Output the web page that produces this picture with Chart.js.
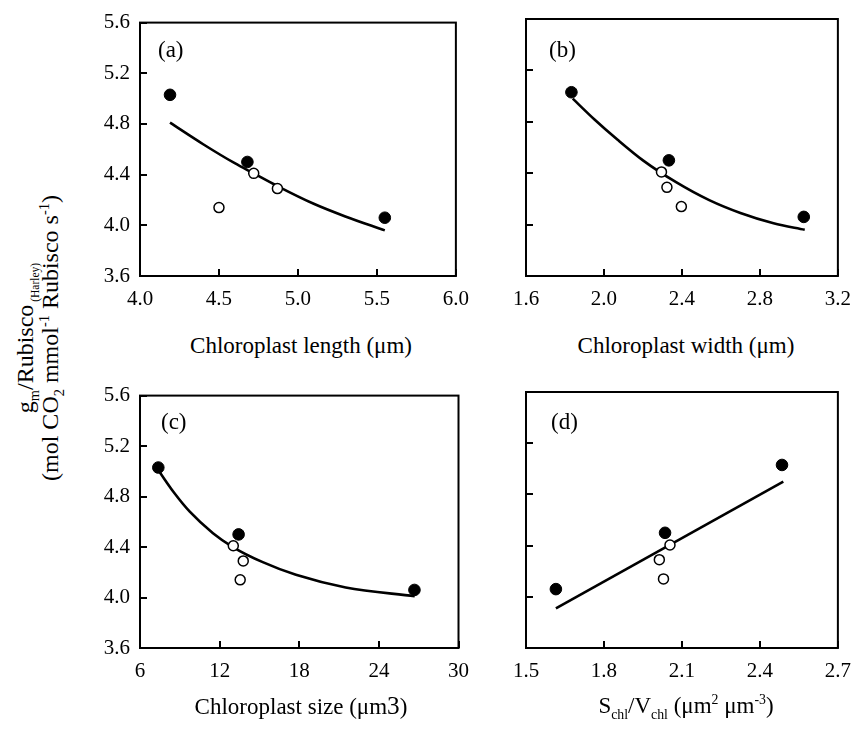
<!DOCTYPE html>
<html><head><meta charset="utf-8">
<script src="https://cdn.jsdelivr.net/npm/chart.js@4.4.1/dist/chart.umd.min.js"></script>
<style>
html,body{margin:0;padding:0;background:#fff;}
body{width:862px;height:733px;position:relative;overflow:hidden;font-family:"Liberation Serif","Times New Roman",serif;color:#000;}
.cv{position:absolute;}
.t{position:absolute;font-size:23px;white-space:nowrap;transform:translate(-50%,-50%);line-height:26px;z-index:2;}
.pl{position:absolute;font-size:23px;white-space:nowrap;line-height:26px;z-index:2;}
.t sub,.t sup,.yl sub,.yl sup{font-size:0.6em;line-height:0;}
.yl{position:absolute;left:38px;top:338px;transform:translate(-50%,-50%) rotate(-90deg);font-size:24px;line-height:25px;text-align:center;white-space:nowrap;z-index:2;}
.yl .small{font-size:0.48em;}
</style>
</head><body>
<canvas id="ca" class="cv"></canvas>
<canvas id="cb" class="cv"></canvas>
<canvas id="cc" class="cv"></canvas>
<canvas id="cd" class="cv"></canvas>

<div class="yl">g<sub>m</sub>/Rubisco<sub class="small">&nbsp;(Harley)</sub><br>(mol CO<sub>2</sub> mmol<sup>-1</sup> Rubisco s<sup>-1</sup>)</div>
<div class="t" style="left:301px;top:346px;">Chloroplast length (μm)</div>
<div class="t" style="left:686px;top:346px;">Chloroplast width (μm)</div>
<div class="t" style="left:301px;top:706px;">Chloroplast size (μm<span style="font-size:1.1em">3</span>)</div>
<div class="t" style="left:686px;top:706px;">S<sub>chl</sub>/V<sub>chl</sub> (μm<sup>2</sup> μm<sup>-3</sup>)</div>
<div class="pl" style="left:158px;top:37px;">(a)</div>
<div class="pl" style="left:549px;top:37px;">(b)</div>
<div class="pl" style="left:161px;top:409px;">(c)</div>
<div class="pl" style="left:551px;top:409px;">(d)</div>

<script>
// ---- shared y axis ----
const yTicks = [3.6, 4.0, 4.4, 4.8, 5.2, 5.6];

// ---- (a) chloroplast length ----
const aXTicks = [4.0, 4.5, 5.0, 5.5, 6.0];
const aFilledX = [4.19, 4.68, 5.55];
const aFilledY = [5.03, 4.50, 4.06];
const aOpenX = [4.50, 4.72, 4.87];
const aOpenY = [4.14, 4.41, 4.29];
const aFitX = [4.19, 4.40, 4.60, 4.72, 4.87, 5.10, 5.30, 5.55];
const aFitY = [4.81, 4.64, 4.49, 4.41, 4.31, 4.17, 4.07, 3.96];

// ---- (b) chloroplast width ----
const bXTicks = [1.6, 2.0, 2.4, 2.8, 3.2];
const bFilledX = [1.833, 2.333, 3.025];
const bFilledY = [5.03, 4.50, 4.06];
const bOpenX = [2.295, 2.323, 2.397];
const bOpenY = [4.41, 4.29, 4.14];
const bFitX = [1.84, 1.95, 2.07, 2.20, 2.37, 2.54, 2.70, 2.87, 3.03];
const bFitY = [4.98, 4.82, 4.66, 4.50, 4.33, 4.19, 4.09, 4.01, 3.96];

// ---- (c) chloroplast size ----
const cXTicks = [6, 12, 18, 24, 30];
const cFilledX = [7.38, 13.43, 26.68];
const cFilledY = [5.03, 4.50, 4.06];
const cOpenX = [13.03, 13.78, 13.55];
const cOpenY = [4.41, 4.29, 4.14];
const cFitX = [7.5, 8.5, 9.75, 11.5, 13.0, 15.25, 17.75, 21.5, 26.7];
const cFitY = [4.99, 4.84, 4.68, 4.51, 4.40, 4.28, 4.18, 4.08, 4.01];

// ---- (d) Schl/Vchl ----
const dXTicks = [1.5, 1.8, 2.1, 2.4, 2.7];
const dFilledX = [1.615, 2.035, 2.485];
const dFilledY = [4.06, 4.50, 5.03];
const dOpenX = [2.054, 2.013, 2.029];
const dOpenY = [4.405, 4.29, 4.14];
const dFitX = [1.615, 2.49];
const dFitY = [3.91, 4.90];

const zip = (xs, ys) => xs.map((x, i) => ({x: x, y: ys[i]}));

const boxTicks = {
  id: 'boxTicks',
  afterDraw(chart) {
    const ctx = chart.ctx, a = chart.chartArea, x = chart.scales.x, y = chart.scales.y;
    ctx.save();
    ctx.strokeStyle = '#000';
    ctx.lineWidth = 2;
    ctx.beginPath();
    x.ticks.forEach(t => { const px = Math.round(x.getPixelForValue(t.value)); ctx.moveTo(px, a.bottom); ctx.lineTo(px, a.bottom - 7); });
    y.ticks.forEach(t => { const py = Math.round(y.getPixelForValue(t.value)); ctx.moveTo(a.left, py); ctx.lineTo(a.left + 7, py); });
    ctx.stroke();
    ctx.strokeRect(a.left, a.top, a.right - a.left, a.bottom - a.top);
    ctx.restore();
  }
};

const FONT = {family: "'Liberation Serif', 'Times New Roman', serif", size: 21};

function panel(id, pos, xTicks, dec, showY, yW, padR, filled, open, fit, smooth) {
  const cv = document.getElementById(id);
  cv.style.left = pos[0] + 'px'; cv.style.top = pos[1] + 'px';
  cv.style.width = pos[2] + 'px'; cv.style.height = pos[3] + 'px';
  cv.width = pos[2]; cv.height = pos[3];
  new Chart(cv, {
    type: 'scatter',
    data: {
      datasets: [
        {data: open, pointRadius: 5, pointBackgroundColor: '#fff', pointBorderColor: '#000', pointBorderWidth: 1.5, showLine: false, order: 1},
        {data: filled, pointRadius: 5.8, pointBackgroundColor: '#000', pointBorderColor: '#000', pointBorderWidth: 1, showLine: false, order: 2},
        {data: fit, showLine: true, pointRadius: 0, borderColor: '#000', borderWidth: 2.6, fill: false,
         cubicInterpolationMode: smooth ? 'monotone' : 'default', tension: 0, order: 3}
      ]
    },
    options: {
      responsive: false, animation: false, devicePixelRatio: 1,
      layout: {padding: {top: 19, right: padR, left: 0, bottom: 0}},
      plugins: {legend: {display: false}, tooltip: {enabled: false}},
      scales: {
        x: {
          type: 'linear', position: 'bottom', min: xTicks[0], max: xTicks[xTicks.length - 1],
          afterBuildTicks: s => { s.ticks = xTicks.map(v => ({value: v})); },
          afterFit: s => { s.height = 44; },
          grid: {display: false, drawTicks: false},
          border: {display: false},
          ticks: {font: FONT, color: '#000', padding: 11, maxRotation: 0, autoSkip: false,
                  callback: v => v.toFixed(dec)}
        },
        y: {
          type: 'linear', position: 'left', min: yTicks[0], max: yTicks[yTicks.length - 1],
          afterBuildTicks: s => { s.ticks = yTicks.map(v => ({value: v})); },
          afterFit: s => { s.width = yW; },
          grid: {display: false, drawTicks: false},
          border: {display: false},
          ticks: {display: showY, font: FONT, color: '#000', padding: 10, autoSkip: false,
                  callback: v => v.toFixed(1)}
        }
      }
    },
    plugins: [boxTicks]
  });
}

panel('ca', [80, 0, 400, 320], aXTicks, 1, true, 60, 20, zip(aFilledX, aFilledY), zip(aOpenX, aOpenY), zip(aFitX, aFitY), true);
panel('cb', [500, 0, 362, 320], bXTicks, 1, false, 26, 16, zip(bFilledX, bFilledY), zip(bOpenX, bOpenY), zip(bFitX, bFitY), true);
panel('cc', [80, 373, 400, 319], cXTicks, 0, true, 60, 20, zip(cFilledX, cFilledY), zip(cOpenX, cOpenY), zip(cFitX, cFitY), true);
panel('cd', [500, 373, 362, 319], dXTicks, 1, false, 26, 16, zip(dFilledX, dFilledY), zip(dOpenX, dOpenY), zip(dFitX, dFitY), false);
</script>
</body></html>
